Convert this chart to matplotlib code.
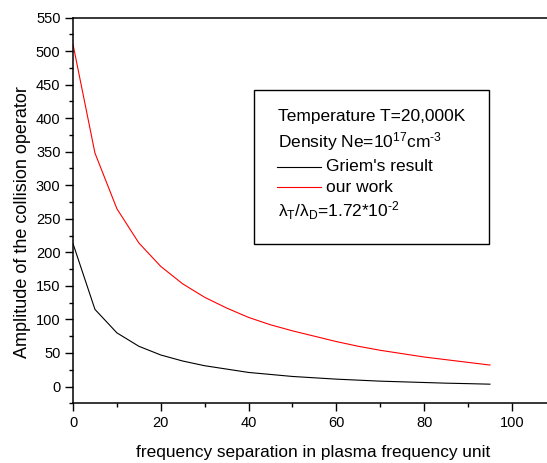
import numpy as np
import matplotlib
matplotlib.use("Agg")
import matplotlib.pyplot as plt
from matplotlib.lines import Line2D
from matplotlib.patches import Rectangle
from matplotlib.ticker import MultipleLocator

plt.rcParams['font.family'] = ['Liberation Sans', 'DejaVu Sans']
plt.rcParams['mathtext.fontset'] = 'custom'
plt.rcParams['mathtext.rm'] = 'Liberation Sans'
plt.rcParams['mathtext.it'] = 'Liberation Sans'
plt.rcParams['mathtext.default'] = 'rm'

# data
freq_sep = [0, 5, 10, 15, 20, 25, 30, 35, 40, 45, 50, 55, 60, 65, 70, 75, 80, 85, 90, 95]
griem = [213, 115, 80, 60, 47, 38, 31, 26, 21, 18, 15, 13, 11, 9.5, 8, 7, 6, 5, 4.3, 3.5]
our_work = [510, 348, 265, 214, 179, 153, 133, 117, 103, 92, 83, 75, 67, 60, 54, 49, 44, 40, 36, 32]

xticks = [0, 20, 40, 60, 80, 100]
yticks = list(range(0, 551, 50))

fig = plt.figure(figsize=(5.47, 4.63), dpi=100)
ax = fig.add_axes([73/547, 1-403.3/463, 1-73/547, (403.3-17.5)/463])

ax.plot(freq_sep, griem, color='black', lw=0.8)
ax.plot(freq_sep, our_work, color='red', lw=0.8)

ax.set_xlim(0, 108)
ax.set_ylim(-25, 550)
ax.set_xticks(xticks)
ax.set_yticks(yticks)
ax.xaxis.set_minor_locator(MultipleLocator(10))
ax.yaxis.set_minor_locator(MultipleLocator(25))
ax.tick_params(which='major', direction='out', length=6, width=1, labelsize=10.5, pad=3)
ax.tick_params(which='minor', direction='out', length=3, width=1)
ax.tick_params(top=False, right=False)
for s in ax.spines.values():
    s.set_linewidth(1.1)
ax.spines['right'].set_visible(False)

ax.set_xlabel('frequency separation in plasma frequency unit', fontsize=12.4)
ax.set_ylabel('Amplitude of the collision operator', fontsize=13)
ax.xaxis.set_label_coords(0.506, -0.108)
ax.yaxis.set_label_coords(-0.088, 0.471)

# legend box drawn by hand (figure pixel coords)
W, H = 547, 463
def fx(x): return x / W
def fy(y): return 1 - y / H

fig.patches.append(Rectangle((fx(254), fy(244)), fx(489) - fx(254), fy(90) - fy(244),
                             transform=fig.transFigure, fill=False, ec='black', lw=1.0))
fs = 12.5
hy = '\u2010'
fig.text(fx(278), fy(116.7), 'Temperature T=20,000K', fontsize=fs, va='center')
fig.text(fx(278), fy(141.7), 'Density Ne=10$^{17}$cm$^{' + hy + '3}$', fontsize=fs, va='center')
fig.add_artist(Line2D([fx(277), fx(321)], [fy(166.7), fy(166.7)], color='black', lw=0.8,
                      transform=fig.transFigure))
fig.text(fx(326), fy(166.7), "Griem's result", fontsize=fs, va='center')
fig.add_artist(Line2D([fx(277), fx(321)], [fy(187), fy(187)], color='red', lw=0.8,
                      transform=fig.transFigure))
fig.text(fx(326), fy(187), 'our work', fontsize=fs, va='center')
fig.text(fx(278), fy(211), '\u03bb$_T$/\u03bb$_D$=1.72*10$^{' + hy + '2}$', fontsize=fs, va='center')

fig.savefig('out.png', dpi=100)
